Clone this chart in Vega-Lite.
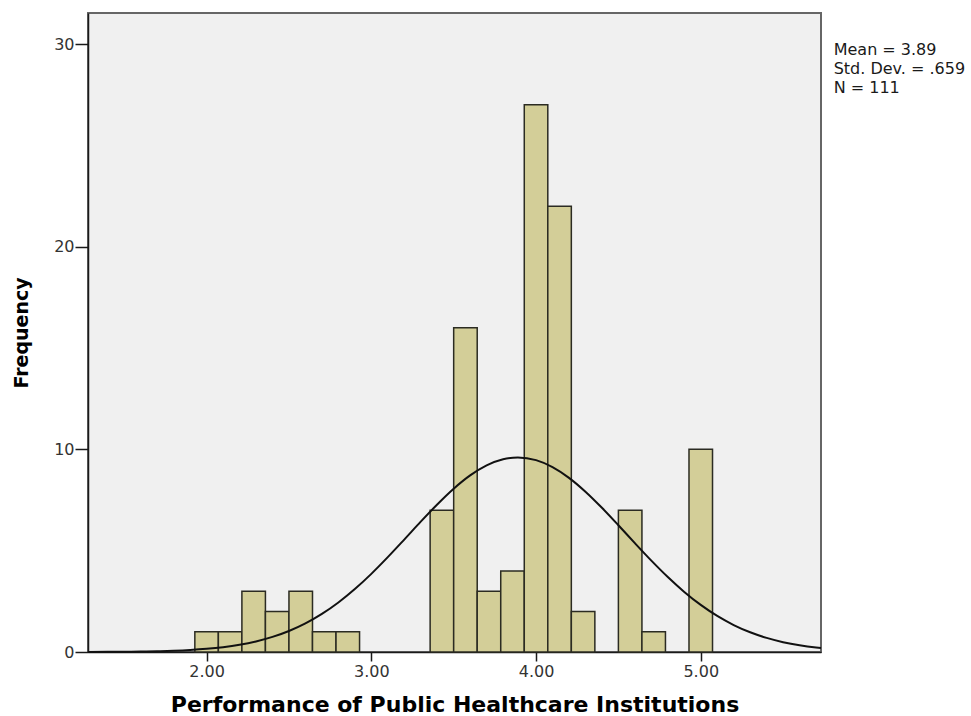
{
  "$schema": "https://vega.github.io/schema/vega-lite/v6.json",
  "width": 733,
  "height": 639,
  "autosize": {"type": "none"},
  "padding": {"left": 88, "top": 13, "right": 150, "bottom": 64},
  "background": "#ffffff",
  "config": {
    "view": {"fill": "#f0f0f0", "stroke": "#666666", "strokeWidth": 2},
    "axis": {
      "grid": false,
      "domainColor": "#1a1a1a",
      "domainWidth": 1.5,
      "tickColor": "#1a1a1a",
      "tickWidth": 1.5,
      "labelFont": "DejaVu Sans",
      "labelFontSize": 16,
      "labelColor": "#333333",
      "titleFont": "DejaVu Sans",
      "titleFontWeight": "bold",
      "titleColor": "#000000"
    }
  },
  "datasets": {
    "bins": [
      {"bin_start": 1.9286, "bin_end": 2.0714, "count": 1},
      {"bin_start": 2.0714, "bin_end": 2.2143, "count": 1},
      {"bin_start": 2.2143, "bin_end": 2.3571, "count": 3},
      {"bin_start": 2.3571, "bin_end": 2.5, "count": 2},
      {"bin_start": 2.5, "bin_end": 2.6429, "count": 3},
      {"bin_start": 2.6429, "bin_end": 2.7857, "count": 1},
      {"bin_start": 2.7857, "bin_end": 2.9286, "count": 1},
      {"bin_start": 3.3571, "bin_end": 3.5, "count": 7},
      {"bin_start": 3.5, "bin_end": 3.6429, "count": 16},
      {"bin_start": 3.6429, "bin_end": 3.7857, "count": 3},
      {"bin_start": 3.7857, "bin_end": 3.9286, "count": 4},
      {"bin_start": 3.9286, "bin_end": 4.0714, "count": 27},
      {"bin_start": 4.0714, "bin_end": 4.2143, "count": 22},
      {"bin_start": 4.2143, "bin_end": 4.3571, "count": 2},
      {"bin_start": 4.5, "bin_end": 4.6429, "count": 7},
      {"bin_start": 4.6429, "bin_end": 4.7857, "count": 1},
      {"bin_start": 4.9286, "bin_end": 5.0714, "count": 10}
    ],
    "curve": [
      {"x": 1.28, "y": 0.0038},
      {"x": 1.4, "y": 0.0076},
      {"x": 1.5, "y": 0.0134},
      {"x": 1.6, "y": 0.0229},
      {"x": 1.7, "y": 0.0384},
      {"x": 1.8, "y": 0.0628},
      {"x": 1.9, "y": 0.1004},
      {"x": 2.0, "y": 0.157},
      {"x": 2.1, "y": 0.24},
      {"x": 2.2, "y": 0.358},
      {"x": 2.3, "y": 0.5226},
      {"x": 2.4, "y": 0.745},
      {"x": 2.5, "y": 1.038},
      {"x": 2.6, "y": 1.413},
      {"x": 2.7, "y": 1.88},
      {"x": 2.8, "y": 2.444},
      {"x": 2.9, "y": 3.106},
      {"x": 3.0, "y": 3.856},
      {"x": 3.1, "y": 4.679},
      {"x": 3.2, "y": 5.548},
      {"x": 3.3, "y": 6.43},
      {"x": 3.4, "y": 7.28},
      {"x": 3.5, "y": 8.057},
      {"x": 3.6, "y": 8.713},
      {"x": 3.7, "y": 9.208},
      {"x": 3.8, "y": 9.51},
      {"x": 3.89, "y": 9.599},
      {"x": 4.0, "y": 9.466},
      {"x": 4.1, "y": 9.124},
      {"x": 4.2, "y": 8.594},
      {"x": 4.3, "y": 7.91},
      {"x": 4.4, "y": 7.115},
      {"x": 4.5, "y": 6.254},
      {"x": 4.6, "y": 5.372},
      {"x": 4.7, "y": 4.51},
      {"x": 4.8, "y": 3.7},
      {"x": 4.9, "y": 2.966},
      {"x": 5.0, "y": 2.324},
      {"x": 5.1, "y": 1.779},
      {"x": 5.2, "y": 1.331},
      {"x": 5.3, "y": 0.973},
      {"x": 5.4, "y": 0.695},
      {"x": 5.5, "y": 0.485},
      {"x": 5.6, "y": 0.331},
      {"x": 5.7, "y": 0.221},
      {"x": 5.73, "y": 0.195}
    ]
  },
  "layer": [
    {
      "data": {"name": "bins"},
      "mark": {"type": "rect", "fill": "#d3ce98", "stroke": "#2b2b22", "strokeWidth": 1.5},
      "encoding": {
        "x": {
          "field": "bin_start", "type": "quantitative",
          "scale": {"domain": [1.28, 5.73], "nice": false, "zero": false},
          "axis": {
            "values": [2, 3, 4, 5], "format": ".2f",
            "tickSize": 9, "labelPadding": 2,
            "title": "Performance of Public Healthcare Institutions",
            "titleFontSize": 22, "titlePadding": 15
          }
        },
        "x2": {"field": "bin_end"},
        "y": {
          "field": "count", "type": "quantitative",
          "scale": {"domain": [0, 31.53], "nice": false},
          "axis": {
            "values": [0, 10, 20, 30],
            "tickSize": 13, "labelPadding": 1,
            "title": "Frequency", "titleFontSize": 19, "titlePadding": 22
          }
        },
        "y2": {"datum": 0}
      }
    },
    {
      "data": {"name": "curve"},
      "mark": {"type": "line", "color": "#111111", "strokeWidth": 2, "interpolate": "monotone"},
      "encoding": {
        "x": {"field": "x", "type": "quantitative"},
        "y": {"field": "y", "type": "quantitative"}
      }
    },
    {
      "data": {"values": [{"label": "stats"}]},
      "mark": {
        "type": "text",
        "text": ["Mean = 3.89", "Std. Dev. = .659", "N = 111"],
        "font": "DejaVu Sans",
        "fontSize": 16,
        "lineHeight": 19,
        "align": "left",
        "baseline": "top",
        "color": "#1a1a1a",
        "clip": false
      },
      "encoding": {
        "x": {"datum": 5.807},
        "y": {"datum": 30.1}
      }
    }
  ]
}
